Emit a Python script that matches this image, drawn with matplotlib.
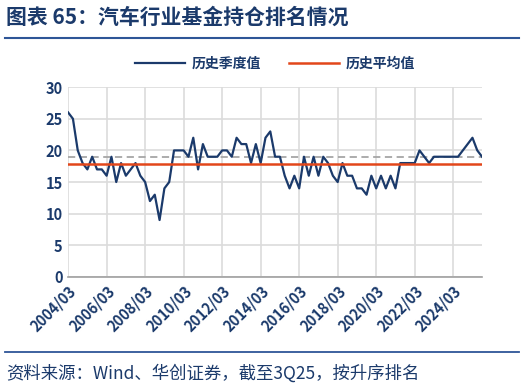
import matplotlib
matplotlib.use("Agg")
import matplotlib.pyplot as plt
from matplotlib.lines import Line2D
import numpy as np

plt.rcParams['font.family'] = ['Noto Sans CJK SC', 'DejaVu Sans']

# 季度排名 2004/03 - 2025/09
rank = [26, 25, 20, 18, 17, 19, 17, 17, 16, 19, 15, 18, 16, 17, 18, 16,
        15, 12, 13, 9, 14, 15, 20, 20, 20, 19, 22, 17, 21, 19, 19, 19,
        20, 20, 19, 22, 21, 21, 18, 21, 18, 22, 23, 19, 19, 16, 14, 16,
        14, 19, 16, 19, 16, 19, 18, 16, 15, 18, 16, 16, 14, 14, 13, 16,
        14, 16, 14, 16, 14, 18, 18, 18, 18, 20, 19, 18, 19, 19, 19, 19,
        19, 19, 20, 21, 22, 20, 19]
hist_avg = 17.8
tick_labels = ['2004/03', '2006/03', '2008/03', '2010/03', '2012/03', '2014/03',
               '2016/03', '2018/03', '2020/03', '2022/03', '2024/03']

navy = '#1B3A6B'
red = '#E2461A'

fig = plt.figure(figsize=(5.24, 3.89), dpi=100)
ax = fig.add_axes([0.130, 0.288, 0.790, 0.488])

x = np.arange(len(rank))
ax.plot(x, rank, color=navy, lw=1.6, zorder=3)
ax.axhline(hist_avg, color=red, lw=1.8, zorder=4)
ax.axhline(rank[-1], color='#A6A6A6', lw=1.3, ls=(0, (4, 2.5)), zorder=2)

ax.set_xlim(0, len(rank) - 1)
ax.set_ylim(0, 30)
ax.set_yticks(range(0, 31, 5))
ax.set_xticks(np.arange(0, len(rank), 8))
ax.set_xticklabels(tick_labels, rotation=45, ha='right', rotation_mode='anchor')
ax.tick_params(length=0, labelsize=10.5, labelcolor=navy, pad=4)
for lab in ax.get_xticklabels() + ax.get_yticklabels():
    lab.set_fontweight('bold')
ax.grid(True, color='#DCDCDC', lw=1.2)
ax.set_axisbelow(True)
for s in ['top', 'right', 'left']:
    ax.spines[s].set_visible(False)
ax.spines['bottom'].set_color('#A0A0A0')
ax.spines['bottom'].set_linewidth(1.2)

# 标题和分隔线
fig.text(0.012, 0.955, '图表 65：汽车行业基金持仓排名情况', fontsize=15,
         fontweight='bold', color=navy, va='center')
fig.add_artist(Line2D([0.01, 0.99], [0.902, 0.902], color='#2E5597', lw=1.5))
fig.add_artist(Line2D([0.01, 0.99], [0.095, 0.095], color='#2E5597', lw=1.3))

# 图例
leg = ax.legend([Line2D([], [], color=navy, lw=1.6), Line2D([], [], color=red, lw=1.8)],
                ['历史季度值', '历史平均值'], loc='lower center', bbox_to_anchor=(0.5, 1.02),
                ncol=2, frameon=False, handlelength=3.6, handletextpad=0.5,
                columnspacing=2.0, prop={'weight': 'bold', 'size': 10})
for t in leg.get_texts():
    t.set_color(navy)

fig.text(0.012, 0.040, '资料来源：Wind、华创证券，截至3Q25，按升序排名', fontsize=12.5,
         style='italic', color=navy, va='center')

fig.savefig('out.png', dpi=100)
